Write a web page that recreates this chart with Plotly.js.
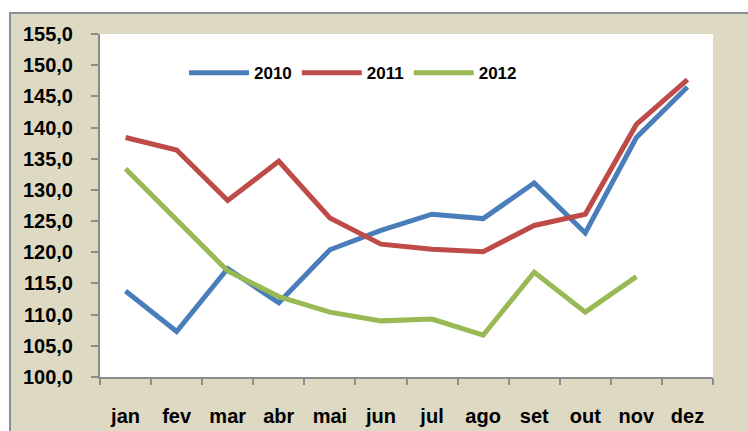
<!DOCTYPE html>
<html><head><meta charset="utf-8">
<script src="https://cdn.plot.ly/plotly-3.0.1.min.js"></script>
<style>
html,body{margin:0;padding:0;background:#fff;width:748px;height:431px;overflow:hidden;}
#frame{position:absolute;left:9px;top:12px;width:739px;height:419px;background:#DDD9C3;border-top:2px solid #8E8E8E;border-left:2px solid #8E8E8E;box-sizing:border-box;}
#chart{position:absolute;left:0;top:0;width:748px;height:431px;}
</style></head>
<body>
<div id="frame"></div>
<div id="chart"></div>
<script>
const months = ["jan","fev","mar","abr","mai","jun","jul","ago","set","out","nov","dez"];
const seriesNames = ["2010","2011","2012"];
const v2010 = [113.8,107.3,117.4,111.9,120.4,123.5,126.1,125.4,131.1,123.1,138.4,146.5];
const v2011 = [138.4,136.4,128.3,134.6,125.5,121.3,120.5,120.1,124.3,126.1,140.5,147.7];
const v2012 = [133.4,125.3,117.0,112.9,110.4,109.0,109.3,106.7,116.8,110.4,116.1];
const colors = ["#4A7EBB","#BE4B48","#98B954"];

const fontFam = "'Liberation Sans',Arial,sans-serif";
const data = [v2010, v2011, v2012].map((vals, i) => ({
  type: "scatter", mode: "lines", name: seriesNames[i],
  x: months.slice(0, vals.length), y: vals,
  line: {color: colors[i], width: 5}
}));

const layout = {
  width: 748, height: 431,
  paper_bgcolor: "rgba(0,0,0,0)", plot_bgcolor: "#FFFFFF",
  margin: {l: 100, r: 35, t: 34, b: 54},
  separators: ",.",
  font: {family: fontFam, size: 20, color: "#000", weight: "bold"},
  showlegend: true,
  legend: {orientation: "h", x: 0.137, y: 0.886, xanchor: "left", yanchor: "middle",
    bgcolor: "rgba(0,0,0,0)", font: {family: fontFam, size: 17, color: "#000", weight: "bold"},
    itemwidth: 60, traceorder: "normal"},
  xaxis: {type: "category", categoryarray: months, range: [-0.5, 11.5],
    showgrid: false, zeroline: false, showline: true, linecolor: "#8C8C8C", linewidth: 2,
    ticks: "outside", tickson: "boundaries", ticklen: 6, tickcolor: "#8C8C8C", tickwidth: 2,
    ticklabelstandoff: 20, tickfont: {family: fontFam, size: 20, color: "#000", weight: "bold"}},
  yaxis: {range: [100, 155], dtick: 5, tick0: 100, tickformat: ".1f",
    showgrid: false, zeroline: false, showline: true, linecolor: "#8C8C8C", linewidth: 2,
    ticks: "outside", ticklen: 7, tickcolor: "#8C8C8C", tickwidth: 2,
    ticklabelstandoff: 14, tickfont: {family: fontFam, size: 20, color: "#000", weight: "bold"}}
};
Plotly.newPlot("chart", data, layout, {displayModeBar: false, staticPlot: true});
</script>
</body></html>
